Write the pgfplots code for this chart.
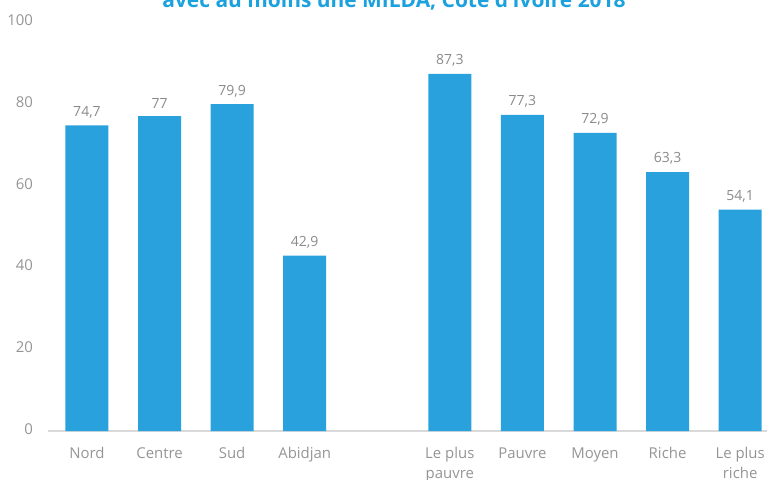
\documentclass[border=0pt]{standalone}
\usepackage{fontspec}
\setmainfont{Open Sans}
\usepackage{pgfplots}
\pgfplotsset{compat=1.18}
\definecolor{barblue}{HTML}{29A1DC}
\definecolor{txtgray}{HTML}{959595}
\definecolor{valgray}{HTML}{8A8A8A}
\definecolor{titleblue}{HTML}{1BA1DD}
\definecolor{basegray}{HTML}{D9D9D9}
\begin{document}
\begin{tikzpicture}
\begin{axis}[name=ax, scale only axis, width=539.25pt, height=306.75pt,
  ymin=0, ymax=100, xmin=-0.537, xmax=9.37,
  ybar, bar width=32.25pt, bar shift=0pt,
  axis x line=bottom, axis y line=left,
  x axis line style={draw=basegray, line width=0.8pt, -},
  y axis line style={draw=none},
  major tick length=0pt,
  ytick={0,20,40,60,80,100},
  xtick={0,1,2,3,5,6,7,8,9},
  xticklabels={Nord,Centre,Sud,Abidjan,{Le plus\\pauvre},Pauvre,Moyen,Riche,{Le plus\\riche}},
  xticklabel style={align=center, text=txtgray, font=\fontsize{11.2}{15.5}\selectfont},
  yticklabel style={text=txtgray, font=\fontsize{11.2}{13}\selectfont},
  typeset ticklabels with strut,
  xticklabel shift=6pt, yticklabel shift=7.75pt,
  /pgf/number format/assume math mode=true,
  nodes near coords,
  nodes near coords style={text=valgray, font=\fontsize{10.5}{13}\selectfont, /pgf/number format/use comma, /pgf/number format/fixed, /pgf/number format/precision=1, /pgf/number format/assume math mode=true, yshift=2pt},
  clip=false,
]
\addplot[fill=barblue, draw=none] coordinates {(0,74.7) (1,77) (2,79.9) (3,42.9) (5,87.3) (6,77.3) (7,72.9) (8,63.3) (9,54.1)};
\end{axis}
\node[anchor=base, text=titleblue, font=\fontsize{15.7}{18}\selectfont\bfseries] at ([xshift=259.5pt, yshift=10.5pt]ax.north west) {avec au moins une MILDA, Côte d'Ivoire 2018};
\pgfresetboundingbox
\path[use as bounding box] ([xshift=-36pt, yshift=-36pt]ax.south west) rectangle ([yshift=16.5pt]ax.north east);
\end{tikzpicture}
\end{document}
